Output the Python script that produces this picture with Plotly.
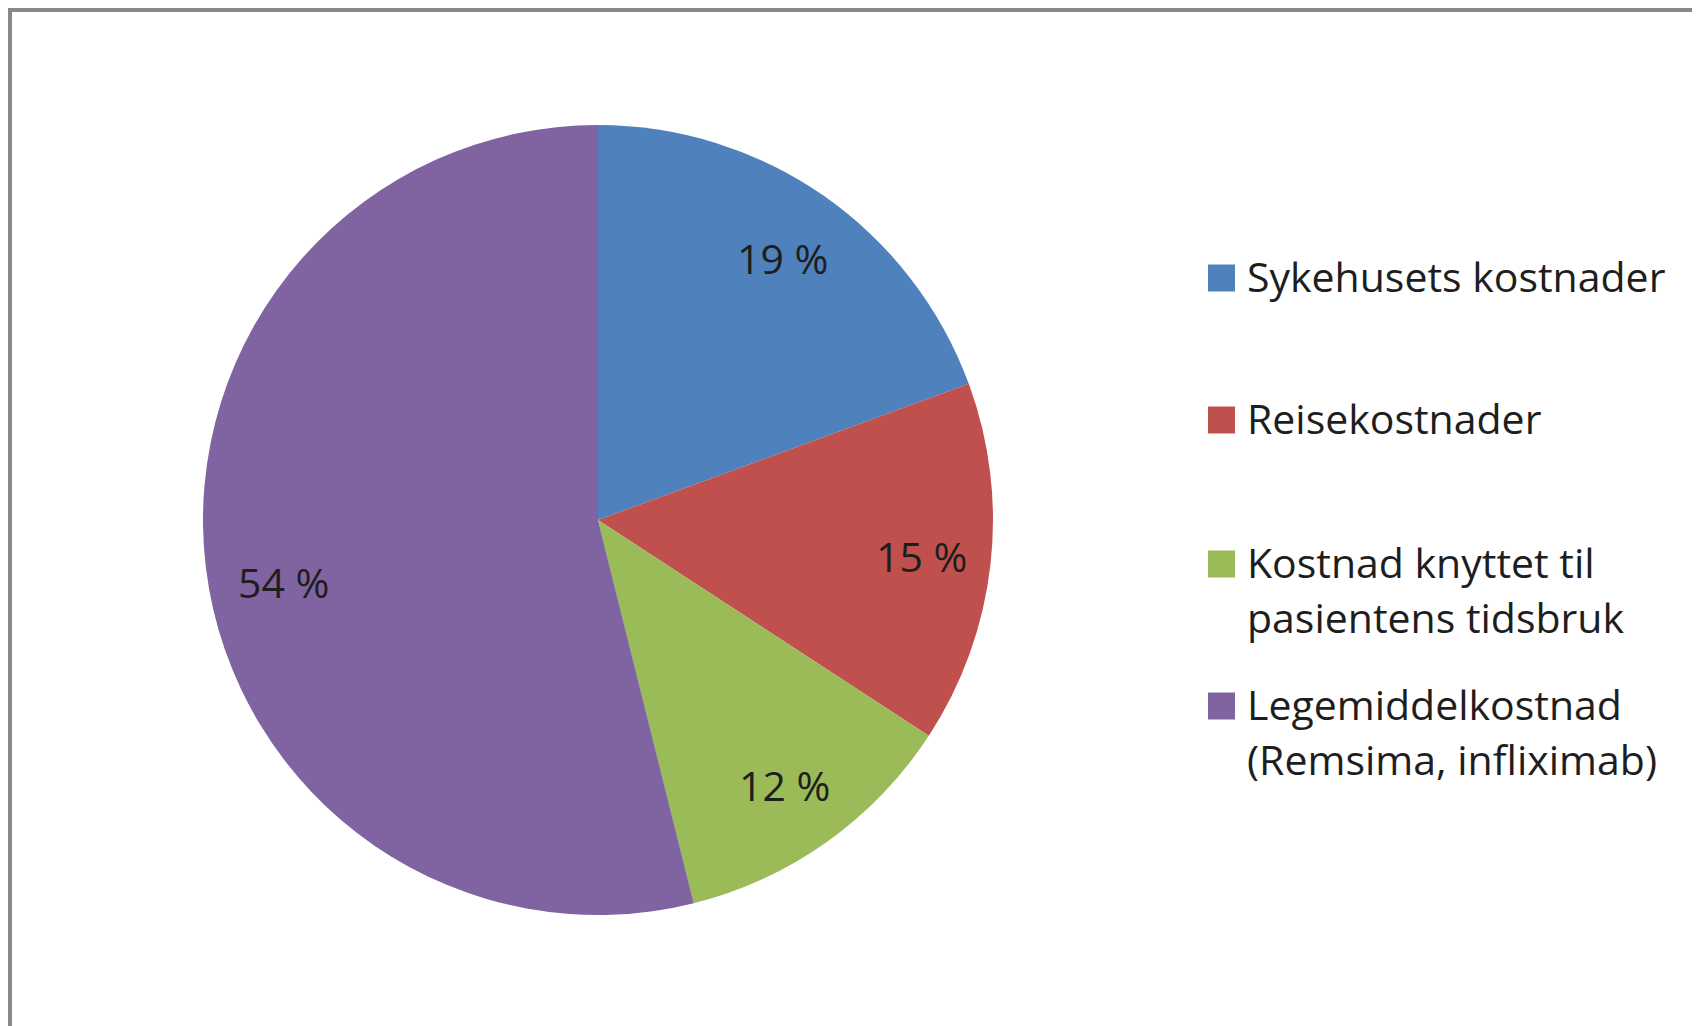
import math
import plotly.graph_objects as go

# ---- data ----
categories = ["Sykehusets kostnader", "Reisekostnader",
              "Kostnad knyttet til pasientens tidsbruk",
              "Legemiddelkostnad (Remsima, infliximab)"]
legend_lines = [["Sykehusets kostnader"], ["Reisekostnader"],
                ["Kostnad knyttet til", "pasientens tidsbruk"],
                ["Legemiddelkostnad", "(Remsima, infliximab)"]]
values = [19.4, 14.8, 11.9, 53.9]
pct_labels = ["19 %", "15 %", "12 %", "54 %"]
colors = ["#4F81BD", "#C0504D", "#9BBB59", "#8064A2"]

W, H = 1700, 1026
OFF = 8  # page body margin compensation
FONT = "'Open Sans', Lato, sans-serif"
TXT = "#1e1e1e"


def px2x(p):
    return (p - OFF) / W


def px2y(p):
    return 1 - (p - OFF) / H


# pie geometry (pixels, page coords)
cx, cy, R = 598, 520, 395

fig = go.Figure(go.Pie(
    labels=categories, values=values, sort=False, direction="clockwise",
    rotation=0, marker=dict(colors=colors, line=dict(width=0)),
    textinfo="none", hoverinfo="label+percent", showlegend=False,
    domain=dict(x=[px2x(cx - R), px2x(cx + R)],
                y=[px2y(cy + R), px2y(cy - R)]),
))

# label placement (Excel-like best fit): radial factor plus small pixel nudges
label_r = 0.815
label_nudge = [(0, 2), (4, 0), (0, 3), (5, 23)]

annotations = []
total = sum(values)
cum = 0.0
for v, t, (nx, ny) in zip(values, pct_labels, label_nudge):
    mid = (cum + v / 2) / total * 2 * math.pi
    cum += v
    px = cx + label_r * R * math.sin(mid) + nx
    py = cy - label_r * R * math.cos(mid) + ny
    annotations.append(dict(x=px2x(px), y=px2y(py), xref="paper", yref="paper",
                            text=t, showarrow=False,
                            font=dict(family=FONT, size=41, color=TXT),
                            xanchor="center", yanchor="middle"))

# legend (manual, larger swatches)
shapes = []
leg_y = [278, 420, 564, 706]
line_gap = 55
sw = 27
for lines, col, yc in zip(legend_lines, colors, leg_y):
    shapes.append(dict(type="rect", xref="paper", yref="paper",
                       x0=px2x(1208), x1=px2x(1208 + sw),
                       y0=px2y(yc + sw / 2), y1=px2y(yc - sw / 2),
                       fillcolor=col, line=dict(width=0)))
    for i, ln in enumerate(lines):
        annotations.append(dict(x=px2x(1245), y=px2y(yc - 2 + i * line_gap),
                                xref="paper", yref="paper", text=ln,
                                showarrow=False, xanchor="left", yanchor="middle",
                                font=dict(family=FONT, size=41, color=TXT)))

# outer frame
shapes.append(dict(type="rect", xref="paper", yref="paper",
                   x0=px2x(10), y1=px2y(10), x1=1.05, y0=-0.05,
                   line=dict(color="#888888", width=4), fillcolor="rgba(0,0,0,0)"))

fig.update_layout(width=W, height=H, margin=dict(l=0, r=0, t=0, b=0),
                  paper_bgcolor="white", plot_bgcolor="white",
                  annotations=annotations, shapes=shapes)
fig.write_html("out.html")
